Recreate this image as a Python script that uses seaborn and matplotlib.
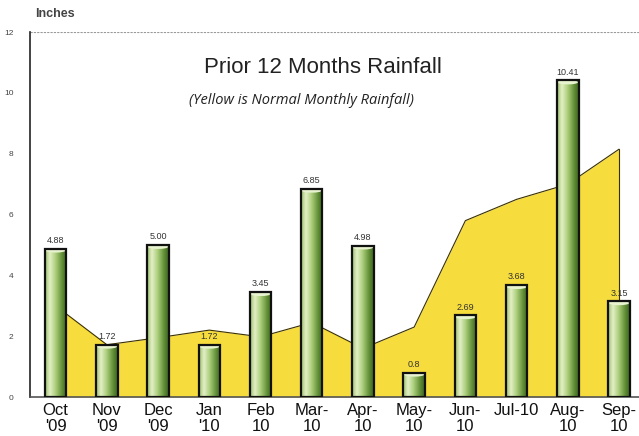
import numpy as np
import pandas as pd
import matplotlib
matplotlib.use("Agg")
import matplotlib.pyplot as plt
import seaborn as sns
from matplotlib.colors import LinearSegmentedColormap
from matplotlib.patches import Ellipse

months = ["Oct\n'09", "Nov\n'09", "Dec\n'09", "Jan\n'10", "Feb\n10", "Mar-\n10",
          "Apr-\n10", "May-\n10", "Jun-\n10", "Jul-10", "Aug-\n10", "Sep-\n10"]
rainfall = [4.88, 1.72, 5.00, 1.72, 3.45, 6.85, 4.98, 0.80, 2.69, 3.68, 10.41, 3.15]
bar_labels = ["4.88", "1.72", "5.00", "1.72", "3.45", "6.85", "4.98", "0.8", "2.69", "3.68", "10.41", "3.15"]
normal = [3.0, 1.72, 1.95, 2.2, 1.98, 2.45, 1.6, 2.3, 5.8, 6.5, 7.0, 8.15]
yticks = [0, 2, 4, 6, 8, 10, 12]

sns.set_theme(style="white")
plt.rcParams['font.family'] = ['Liberation Sans', 'DejaVu Sans']

fig = plt.figure(figsize=(6.39, 4.36), dpi=100)
ax = fig.add_axes([0.047, 0.0894, 0.953, 0.837])

df = pd.DataFrame({"month": months, "rain": rainfall})
xs = np.arange(len(months))

# normal rainfall area
ax.fill_between(xs, 0, normal, color="#f6dc3c", zorder=1, linewidth=0)
ax.plot(xs, normal, color="#3a3000", lw=0.8, zorder=1.5)
ax.plot([xs[-1], xs[-1]], [0, normal[-1]], color="#3a3000", lw=0.8, zorder=1.5)

sns.barplot(data=df, x="month", y="rain", width=0.42, color="#8fbc5a",
            edgecolor="#111111", linewidth=1.6, ax=ax, zorder=3)

cmap = LinearSegmentedColormap.from_list(
    "cyl", [(0.0, "#9cbf6c"), (0.22, "#e4f0c6"), (0.5, "#a8cc78"),
            (0.8, "#5e8c34"), (1.0, "#3e6420")])
grad = np.linspace(0, 1, 64).reshape(1, -1)
for p, lab in zip(ax.patches, bar_labels):
    x0, y0 = p.get_x(), p.get_y()
    w, h = p.get_width(), p.get_height()
    im = ax.imshow(grad, cmap=cmap, aspect="auto", extent=[x0, x0 + w, y0, y0 + h],
                   zorder=3.5, interpolation="bicubic")
    im.set_clip_path(p)
    ax.add_patch(Ellipse((x0 + w / 2, y0 + h - 0.06), w * 0.95, 0.14,
                         facecolor="#e8f3cf", edgecolor="none", zorder=3.6))
    p.set_facecolor("none")
    p.set_zorder(4)
    ax.text(x0 + w / 2, y0 + h + 0.12, lab, ha="center", va="bottom",
            fontsize=6.5, color="#333333", zorder=5)

ax.set_xlim(-0.5, 11.39)
ax.set_ylim(0, 12)
ax.set_yticks(yticks)
ax.set_yticklabels([str(v) for v in yticks], fontsize=6, color="#444444")
ax.set_xticks(xs)
ax.set_xticklabels(months, fontsize=12, color="#111111", linespacing=1.1)
ax.set_xticks(xs[:-1] + 0.5, minor=True)
ax.tick_params(axis="x", which="major", length=0, pad=4)
ax.tick_params(axis="x", which="minor", length=6, direction="inout", width=1, color="#333333")
ax.tick_params(axis="y", length=6, direction="inout", width=1, color="#333333", pad=9)
ax.set_xlabel("")
ax.set_ylabel("")

for s in ["top", "right"]:
    ax.spines[s].set_visible(False)
ax.spines["left"].set_color("#222222")
ax.spines["left"].set_linewidth(1.2)
ax.spines["bottom"].set_color("#555555")
ax.spines["bottom"].set_linewidth(1.2)
ax.axhline(12, color="#999999", lw=0.8, ls=(0, (2, 1)), zorder=0.5)

fig.text(0.055, 0.968, "Inches", fontsize=9, weight="bold", color="#444444",
         ha="left", va="center")
ax.text(5.22, 10.82, "Prior 12 Months Rainfall", fontsize=16, ha="center", va="center",
        color="#222222")
ax.text(4.8, 9.74, "(Yellow is Normal Monthly Rainfall)", fontsize=10.5, ha="center",
        va="center", style="italic", color="#222222", family=["Open Sans", "DejaVu Sans"])

fig.savefig("out.png", dpi=100)
